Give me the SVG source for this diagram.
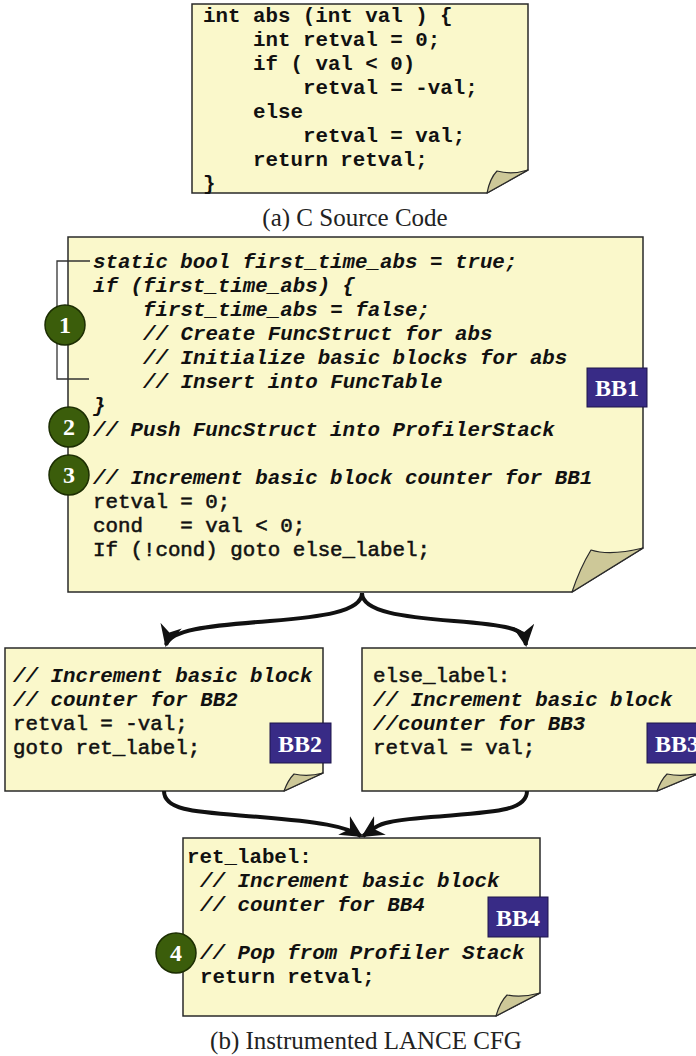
<svg xmlns="http://www.w3.org/2000/svg" width="696" height="1056" viewBox="0 0 696 1056">
  <style>
    .page { fill: #faf8cb; stroke: #2a2a2a; stroke-width: 1.5; }
    .flap { fill: #cdc898; stroke: #2a2a2a; stroke-width: 1.2; stroke-linejoin: round; }
    .code { font-family: "Liberation Mono", "Courier New", monospace; font-size: 20.8px; fill: #111; font-weight: bold; white-space: pre; }
    .it { font-style: italic; }
    .lt { font-weight: normal; stroke: #111; stroke-width: 0.55; }
    .cap { font-family: "Liberation Serif", "Times New Roman", serif; font-size: 25px; fill: #222; text-anchor: middle; }
    .badge { fill: #3b5d0b; stroke: #1c2e02; stroke-width: 1.5; }
    .badge-t { font-family: "Liberation Serif", "Times New Roman", serif; font-weight: bold; font-size: 24px; fill: #fff; text-anchor: middle; }
    .bb { fill: #382b86; stroke: #1c154a; stroke-width: 1; }
    .bb-t { font-family: "Liberation Serif", "Times New Roman", serif; font-weight: bold; font-size: 24px; fill: #fff; text-anchor: middle; }
    .edge { fill: none; stroke: #111; stroke-width: 4; }
    .brace { fill: none; stroke: #333; stroke-width: 1.3; }
  </style>
  <defs>
    <marker id="arrow" markerUnits="userSpaceOnUse" markerWidth="24" markerHeight="24" refX="20" refY="11" orient="auto">
      <path d="M0,0 L22,11 L0,22 L7,11 Z" fill="#111"/>
    </marker>
  </defs>

  <!-- (a) source listing -->
  <g id="source">
    <path class="page" d="M192,4 H528 V170 L487,193 H192 Z"/>
    <path class="flap" d="M487,193 Q490,178 497,171 Q512,175 528,170 Z"/>
    <text class="code" x="203" y="22">int abs (int val ) {</text>
    <text class="code" x="253" y="46">int retval = 0;</text>
    <text class="code" x="253" y="70">if ( val &lt; 0)</text>
    <text class="code" x="303" y="94">retval = -val;</text>
    <text class="code" x="253" y="118">else</text>
    <text class="code" x="303" y="142">retval = val;</text>
    <text class="code" x="253" y="166">return retval;</text>
    <text class="code" x="203" y="190">}</text>
    <text class="cap" x="355" y="226">(a) C Source Code</text>
  </g>

  <!-- BB1: entry block -->
  <g id="bb1">
    <path class="page" d="M68,237 H643 V548 L572,592 H68 Z"/>
    <path class="flap" d="M572,592 Q580,568 591,550 Q610,556 643,548 Z"/>
    <text class="code it" x="93" y="268">static bool first_time_abs = true;</text>
    <text class="code it" x="93" y="292">if (first_time_abs) {</text>
    <text class="code it" x="143" y="316">first_time_abs = false;</text>
    <text class="code it" x="143" y="340">// Create FuncStruct for abs</text>
    <text class="code it" x="143" y="364">// Initialize basic blocks for abs</text>
    <text class="code it" x="143" y="388">// Insert into FuncTable</text>
    <text class="code it" x="93" y="412">}</text>
    <text class="code it" x="93" y="436">// Push FuncStruct into ProfilerStack</text>
    <text class="code it" x="93" y="484">// Increment basic block counter for BB1</text>
    <text class="code lt" x="93" y="508">retval = 0;</text>
    <text class="code lt" x="93" y="532">cond   = val &lt; 0;</text>
    <text class="code lt" x="93" y="556">If (!cond) goto else_label;</text>
    <rect class="bb" x="587" y="368" width="60" height="39"/>
    <text class="bb-t" x="617" y="396">BB1</text>
  </g>

  <!-- markers 1-3 in BB1 -->
  <g id="marker1">
    <path class="brace" d="M90,261 H57 V379 H89"/>
    <circle class="badge" cx="65" cy="325" r="20"/>
    <text class="badge-t" x="65" y="333">1</text>
  </g>
  <g id="marker2">
    <circle class="badge" cx="69" cy="427" r="20"/>
    <text class="badge-t" x="69" y="435">2</text>
  </g>
  <g id="marker3">
    <circle class="badge" cx="69" cy="475" r="20"/>
    <text class="badge-t" x="69" y="483">3</text>
  </g>

  <!-- BB2: then branch -->
  <g id="bb2">
    <path class="page" d="M5,648 H323 V773 L284,791 H5 Z"/>
    <path class="flap" d="M284,791 Q288,780 294,774 Q308,777 323,773 Z"/>
    <text class="code it" x="13" y="682">// Increment basic block</text>
    <text class="code it" x="13" y="706">// counter for BB2</text>
    <text class="code lt" x="13" y="730">retval = -val;</text>
    <text class="code lt" x="13" y="754">goto ret_label;</text>
    <rect class="bb" x="270" y="723" width="61" height="40"/>
    <text class="bb-t" x="300" y="752">BB2</text>
  </g>

  <!-- BB3: else branch (runs past the right edge) -->
  <g id="bb3">
    <path class="page" d="M362,648 H700 V773 L657,791 H362 Z"/>
    <path class="flap" d="M657,791 Q661,780 667,774 Q682,777 700,773 Z"/>
    <text class="code lt" x="373" y="682">else_label:</text>
    <text class="code it" x="373" y="706">// Increment basic block</text>
    <text class="code it" x="373" y="730">//counter for BB3</text>
    <text class="code lt" x="373" y="754">retval = val;</text>
    <rect class="bb" x="647" y="723" width="61" height="40"/>
    <text class="bb-t" x="677" y="752">BB3</text>
  </g>

  <!-- BB4: return block -->
  <g id="bb4">
    <path class="page" d="M183,838 H540 V993 L496,1016 H183 Z"/>
    <path class="flap" d="M496,1016 Q500,1002 507,995 Q522,998 540,993 Z"/>
    <text class="code" x="187" y="863">ret_label:</text>
    <text class="code it" x="200" y="887">// Increment basic block</text>
    <text class="code it" x="200" y="911">// counter for BB4</text>
    <text class="code it" x="200" y="959">// Pop from Profiler Stack</text>
    <text class="code" x="200" y="983">return retval;</text>
    <rect class="bb" x="488" y="897" width="60" height="40"/>
    <text class="bb-t" x="518" y="926">BB4</text>
  </g>
  <g id="marker4">
    <circle class="badge" cx="176" cy="953" r="20"/>
    <text class="badge-t" x="176" y="961">4</text>
  </g>

  <text class="cap" x="366" y="1049">(b) Instrumented LANCE CFG</text>

  <!-- control-flow edges -->
  <g id="edges">
    <path class="edge" marker-end="url(#arrow)" d="M362,593 C362,612 320,617 270,621 C205,626 170,630 166,645"/>
    <path class="edge" marker-end="url(#arrow)" d="M362,593 C362,612 404,617 454,621 C519,626 524,630 526,645"/>
    <path class="edge" marker-end="url(#arrow)" d="M164,791 C164,812 200,812 260,817 C320,822 345,826 361,836"/>
    <path class="edge" marker-end="url(#arrow)" d="M527,791 C527,812 491,812 431,817 C371,822 379,826 363,836"/>
  </g>
</svg>
